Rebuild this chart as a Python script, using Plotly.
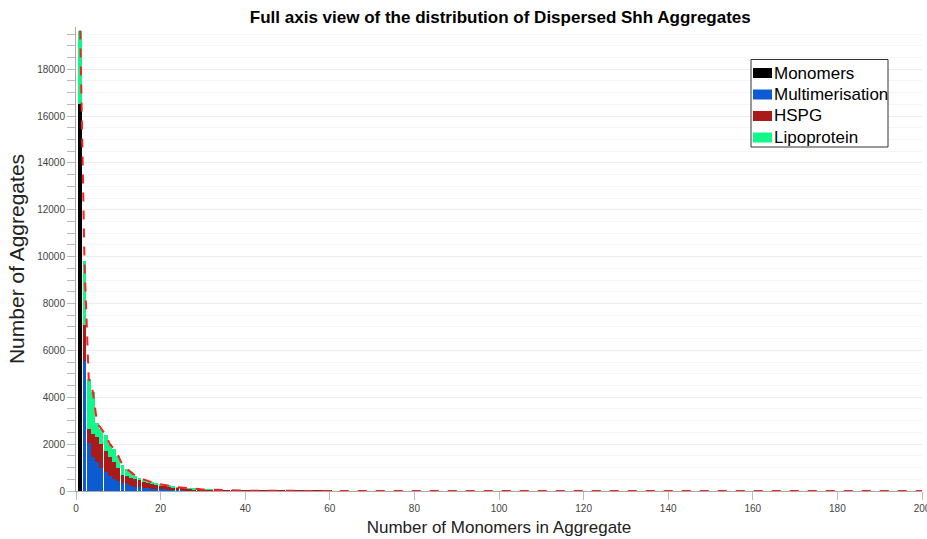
import plotly.graph_objects as go

# Aggregate size (number of monomers), 1..200
sizes = list(range(1, 201))

# Counts per aggregate size, listed from size 1 to size 60; larger sizes are empty
monomers = [16500]

multimerisation = [
    0, 5550, 2030, 1460, 1250, 1000, 800, 650, 520, 420,
    330, 280, 230, 190, 160, 135, 115, 100, 85, 75,
    66, 58, 51, 45, 40, 35, 31, 27, 24, 21,
    19, 17, 15, 13, 12, 10, 9, 8, 7, 6,
    6, 5, 4, 4, 3, 3, 3, 2, 2, 2,
    2, 1, 1, 1, 1, 1, 1, 1, 1, 1,
]

hspg = [
    0, 1550, 600, 970, 1050, 1000, 900, 800, 730, 580,
    370, 340, 330, 310, 290, 265, 245, 220, 195, 170,
    150, 132, 115, 100, 88, 77, 67, 58, 50, 44,
    38, 33, 28, 24, 21, 18, 15, 13, 11, 9,
    8, 7, 6, 5, 5, 4, 3, 3, 3, 2,
    2, 2, 2, 1, 1, 1, 1, 1, 1, 1,
]

lipoprotein = [
    3150, 2700, 2170, 1780, 600, 650, 700, 550, 550, 500,
    400, 330, 240, 150, 110, 90, 70, 50, 40, 35,
    29, 25, 19, 15, 12, 8, 7, 5, 4, 3,
    2, 1, 1, 1, 0, 0, 0, 0, 0, 0,
    0, 0, 0, 0, 0, 0, 0, 0, 0, 0,
    0, 0, 0, 0, 0, 0, 0, 0, 0, 0,
]

series_names = ["Monomers", "Multimerisation", "HSPG", "Lipoprotein"]
series_colors = ["#000000", "#0b5bd3", "#ab1a1a", "#12f78a"]

empty_tail = [0] * (len(sizes) - len(multimerisation))
multimerisation = multimerisation + empty_tail
hspg = hspg + empty_tail
lipoprotein = lipoprotein + empty_tail
monomer_full = monomers + [0] * (len(sizes) - len(monomers))

totals = [a + b + c + d for a, b, c, d in zip(monomer_full, multimerisation, hspg, lipoprotein)]

FONT = "Liberation Sans, Arial, sans-serif"

fig = go.Figure()
for name, color, xs, ys in zip(series_names, series_colors,
                               [sizes[:1], sizes, sizes, sizes],
                               [monomers, multimerisation, hspg, lipoprotein]):
    fig.add_trace(go.Bar(x=xs, y=ys, name=name, showlegend=False,
                         marker=dict(color=color, line=dict(width=0))))
fig.add_trace(go.Scatter(x=sizes, y=totals, mode="lines", showlegend=False,
                         line=dict(color="#ff1e1e", width=2, dash="dash")))

# Boxed legend with wide colour swatches (paper coordinates)
PLOT_L, PLOT_R, PLOT_T, PLOT_B = 76, 922, 27, 491


def px_x(p):
    return (p - PLOT_L) / (PLOT_R - PLOT_L)


def px_y(p):
    return (PLOT_B - p) / (PLOT_B - PLOT_T)


shapes = [dict(type="rect", xref="paper", yref="paper",
               x0=px_x(751), x1=px_x(888), y0=px_y(147), y1=px_y(59.5),
               line=dict(color="#333", width=1), fillcolor="white", layer="above")]
annotations = []
row_y = [73, 94.5, 116, 137.5]
for name, color, ry in zip(series_names, series_colors, row_y):
    shapes.append(dict(type="rect", xref="paper", yref="paper",
                       x0=px_x(753), x1=px_x(772), y0=px_y(ry + 5), y1=px_y(ry - 5),
                       line=dict(width=0), fillcolor=color, layer="above"))
    annotations.append(dict(xref="paper", yref="paper", x=px_x(771.5), y=px_y(ry),
                            text=name, showarrow=False, xanchor="left", yanchor="middle",
                            font=dict(size=17, color="#000", family=FONT)))

fig.update_layout(
    width=927, height=539,
    margin=dict(l=PLOT_L, r=927 - PLOT_R, t=PLOT_T, b=539 - PLOT_B, autoexpand=False),
    barmode="stack", bargap=0.08,
    paper_bgcolor="white", plot_bgcolor="white",
    font=dict(family=FONT, color="#222"),
    title=dict(text="<b>Full axis view of the distribution of Dispersed Shh Aggregates</b>",
               x=0.5397, xanchor="center", y=0.968, yanchor="middle",
               font=dict(size=17, color="#000", family=FONT)),
    showlegend=False,
    shapes=shapes,
    annotations=annotations,
)

fig.update_xaxes(
    range=[0, 200], tickmode="linear", tick0=0, dtick=20,
    showgrid=False, zeroline=False, automargin=False,
    showline=True, linecolor="#aaa", linewidth=1,
    ticks="outside", ticklen=8, tickcolor="#bbb", tickwidth=1,
    ticklabeloverflow="allow",
    tickfont=dict(size=10, color="#444", family=FONT),
    title=dict(text="Number of Monomers in Aggregate",
               font=dict(size=17, color="#222", family=FONT), standoff=8),
)

fig.update_yaxes(
    range=[0, 19800], tickmode="linear", tick0=0, dtick=2000, tickformat="d",
    showgrid=True, gridcolor="#ececec", gridwidth=1, zeroline=False, automargin=False,
    showline=True, linecolor="#aaa", linewidth=1,
    ticks="outside", ticklen=8, tickcolor="#bbb", tickwidth=1,
    tickfont=dict(size=10, color="#444", family=FONT),
    minor=dict(dtick=500, ticks="outside", ticklen=8, tickcolor="#bbb",
               showgrid=True, gridcolor="#f6f6f6"),
    title=dict(text="Number of Aggregates",
               font=dict(size=21, color="#222", family=FONT), standoff=6),
)

fig.write_html("out.html")
